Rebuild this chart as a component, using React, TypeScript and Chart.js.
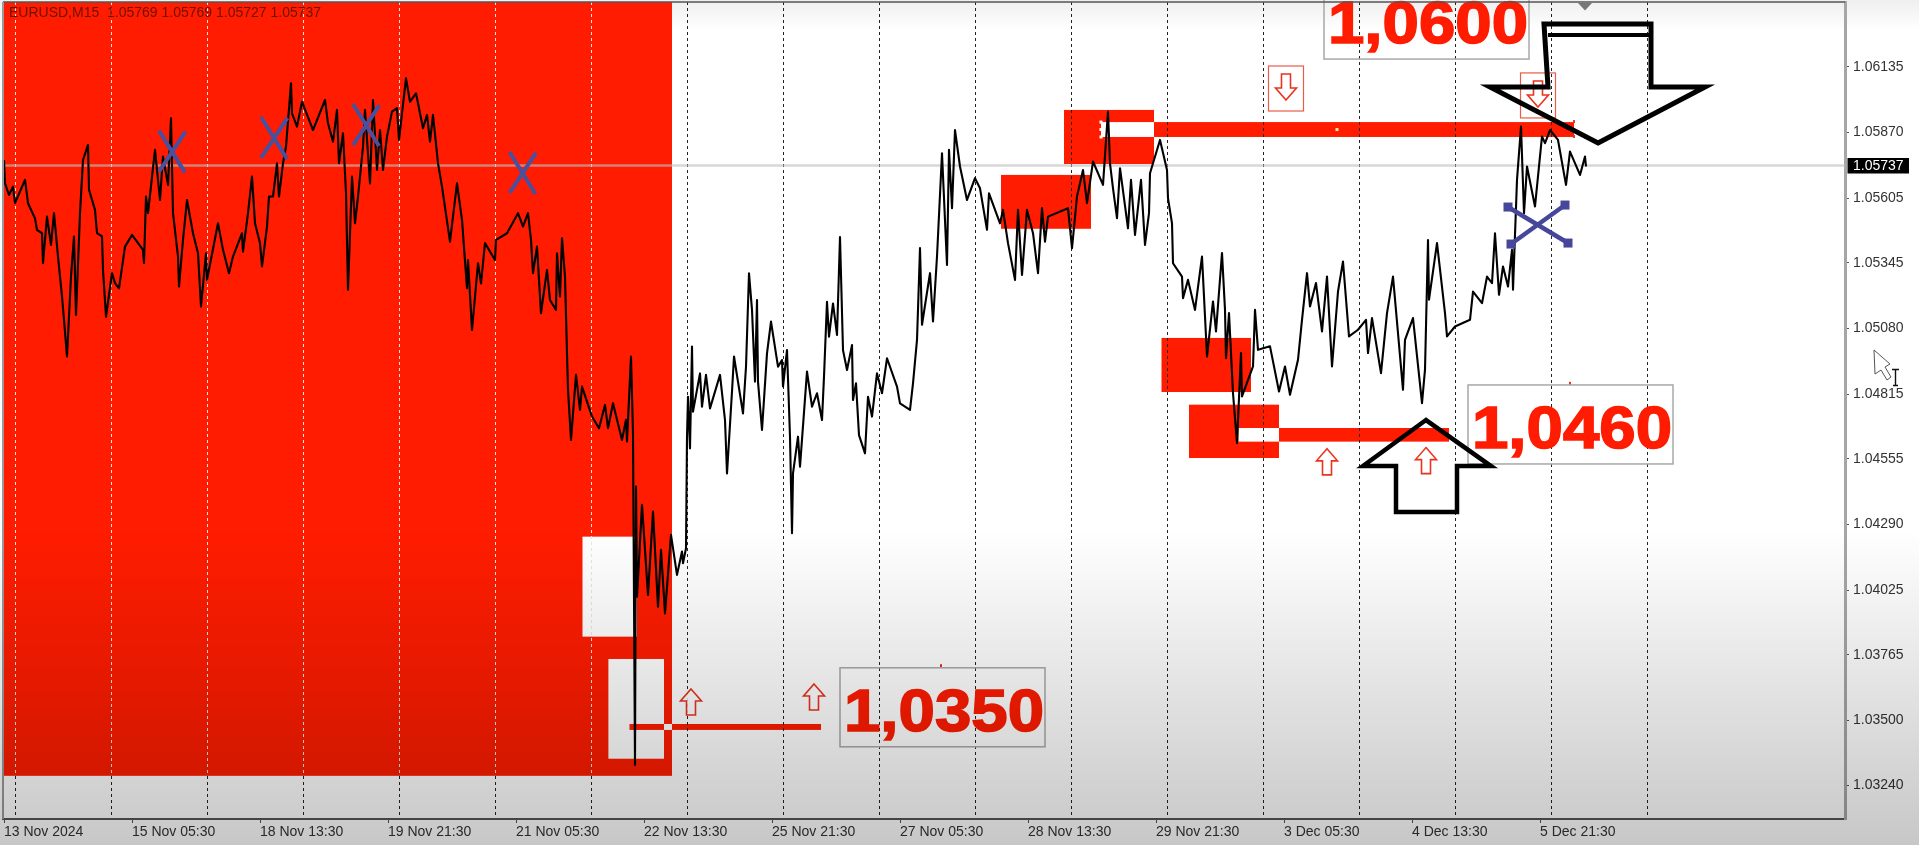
import React, { useEffect, useRef } from "react";
import { Chart, registerables } from "chart.js";

Chart.register(...registerables);

// Horizontal axis unit: one M15 bar. Each pair is [bar, price].
const legNov13to18: [number, number][] = [
  [1,1.05759],[2,1.05665],[6,1.05618],[10,1.05652],[12,1.05585],[22,1.05679],[25,1.05585],[32,1.05524],[34,1.05477],[39,1.05464],
  [40,1.05343],[44,1.05531],[48,1.05417],[51,1.05545],[55,1.0537],[59,1.05209],[61,1.05115],[64,1.04967],[68,1.05289],[71,1.05451],
  [73,1.05135],[77,1.05545],[80,1.05759],[85,1.0582],[86,1.05639],[92,1.05558],[94,1.05464],[99,1.05451],[100,1.05316],[103,1.05128],
  [109,1.05303],[112,1.05263],[116,1.05242],[122,1.0541],[129,1.05457],[140,1.05397],[141,1.05343],[143,1.05612],[145,1.05545],[152,1.058],
  [154,1.05719],[157,1.05598],[160,1.05773],[165,1.05659],[168,1.05927],[170,1.05545],[175,1.0537],[176,1.05249],[180,1.05437],[184,1.05598],
  [190,1.05464],[195,1.05383],[198,1.05169],[203,1.05383],[204,1.05276],[215,1.05504],[220,1.05397],[226,1.05303],[230,1.0537],[239,1.05464],
  [240,1.0539],[245,1.05545],[249,1.05692],[252,1.05504],[257,1.05424],[259,1.0533],[264,1.05491],[266,1.05612],[270,1.05612],[274,1.05746],
  [276,1.05612],[280,1.05746],[283,1.05813],[288,1.06068],[289,1.05947],[294,1.05894],[299,1.05994],[310,1.0588],[322,1.06001],[325,1.05907],[330,1.05833],
];
const legNov18to22: [number, number][] = [
  [334,1.05961],[336,1.05746],[340,1.05867],[343,1.05625],[345,1.05236],[349,1.05692],[352,1.05504],[355,1.05612],[360,1.05813],[362,1.05961],
  [367,1.05665],[370,1.06001],[374,1.05719],[377,1.0588],[380,1.05719],[384,1.05853],[389,1.05954],[394,1.05968],[396,1.0584],[403,1.06088],
  [407,1.05994],[413,1.06028],[420,1.05887],[424,1.05941],[427,1.05833],[430,1.05941],[435,1.05746],[439,1.05652],[447,1.0543],[454,1.05665],
  [459,1.05518],[464,1.05242],[465,1.05356],[469,1.05074],[475,1.05343],[478,1.05262],[482,1.05424],[492,1.05356],[493,1.05437],[504,1.05464],
  [515,1.05545],[520,1.05491],[525,1.05545],[528,1.05437],[530,1.05303],[534,1.0541],[538,1.05142],[544,1.05316],[547,1.05195],[553,1.05155],
  [554,1.05383],[557,1.05209],[559,1.05444],[562,1.05289],[564,1.0498],[565,1.04833],[568,1.04631],[573,1.04893],[577,1.04752],[579,1.04846],
  [589,1.04725],[596,1.04678],[602,1.04772],[605,1.04678],[610,1.04779],[619,1.04631],[623,1.04712],[624,1.04625],[628,1.04967],[630,1.04658],
  [632,1.03321],[633,1.04443],[634,1.03999],[639,1.04369],[645,1.04006],[650,1.04342],[655,1.03959],[658,1.04188],[662,1.03932],[668,1.04248],
  [674,1.04087],[679,1.04181],[680,1.04134],[683,1.04194],
];
const legNov22to28: [number, number][] = [
  [684,1.04644],[685,1.04805],[687,1.04597],[689,1.05007],[690,1.04745],[697,1.04899],[699,1.04765],[703,1.04893],[707,1.04758],[717,1.04893],
  [722,1.04711],[724,1.04496],[729,1.04826],[731,1.04967],[740,1.04738],[743,1.04926],[746,1.05302],[749,1.05155],[752,1.04866],[754,1.05195],
  [755,1.04866],[759,1.04671],[764,1.0498],[768,1.05108],[775,1.04926],[779,1.04953],[780,1.04846],[784,1.04993],[787,1.04644],[789,1.04255],
  [790,1.04496],[795,1.04644],[797,1.04523],[804,1.04906],[809,1.04765],[814,1.04819],[819,1.04711],[821,1.04886],[824,1.05188],[826,1.05047],
  [830,1.05181],[834,1.05054],[837,1.05449],[840,1.04993],[844,1.04913],[849,1.05013],[850,1.04792],[853,1.04859],[856,1.0465],[862,1.04577],
  [865,1.04805],[869,1.04725],[874,1.04899],[879,1.04819],[884,1.0496],[894,1.04846],[897,1.04778],[907,1.04752],[910,1.04859],[914,1.05034],
  [917,1.05404],[919,1.05095],[927,1.05303],[930,1.05108],[934,1.0537],[939,1.05786],[944,1.05336],[946,1.058],[949,1.05565],[952,1.0588],
  [957,1.05733],[964,1.05598],[972,1.05686],[977,1.05645],[984,1.05478],[986,1.05625],[997,1.05504],[1000,1.05558],[1005,1.05424],[1012,1.05276],
  [1015,1.05558],[1019,1.05296],[1024,1.05558],[1030,1.05464],[1035,1.05303],[1039,1.05565],[1042,1.0543],[1045,1.05531],[1065,1.05565],[1069,1.05404],
  [1074,1.05612],[1080,1.05719],[1084,1.05585],[1090,1.05753],[1100,1.05659],[1105,1.05954],[1107,1.05746],[1110,1.05645],[1114,1.05525],[1117,1.05726],
  [1125,1.05484],[1128,1.05679],[1132,1.05457],[1138,1.05679],[1142,1.05417],[1146,1.05545],[1147,1.05706],[1157,1.0584],[1164,1.05719],[1165,1.05605],
];
const legNov29toDec5: [number, number][] = [
  [1169,1.05504],[1170,1.05343],[1179,1.05289],[1180,1.05202],[1185,1.05276],[1192,1.05155],[1199,1.0537],[1204,1.04967],[1210,1.05189],[1213,1.05068],
  [1219,1.05384],[1222,1.05155],[1223,1.0496],[1226,1.05142],[1230,1.04819],[1234,1.04618],[1238,1.04981],[1239,1.04806],[1250,1.04927],[1252,1.05155],
  [1255,1.04994],[1267,1.05008],[1276,1.04826],[1282,1.04927],[1287,1.04813],[1295,1.04954],[1299,1.05115],[1304,1.05303],[1307,1.05169],[1313,1.05263],
  [1319,1.05068],[1324,1.05289],[1329,1.04927],[1335,1.05229],[1340,1.0535],[1346,1.05048],[1355,1.05075],[1363,1.05115],[1365,1.04981],[1369,1.05122],
  [1378,1.049],[1384,1.05142],[1390,1.05289],[1400,1.04833],[1402,1.05034],[1410,1.05122],[1419,1.04779],[1422,1.04914],[1425,1.05437],[1426,1.05196],
  [1434,1.05424],[1442,1.05142],[1444,1.05048],[1452,1.05088],[1467,1.05115],[1470,1.05229],[1479,1.05182],[1484,1.05289],[1489,1.05263],[1492,1.05464],
  [1496,1.05216],[1500,1.0533],[1505,1.05249],[1509,1.05397],[1510,1.05236],[1514,1.05679],[1518,1.05894],[1521,1.05545],[1524,1.05733],[1532,1.05572],
  [1539,1.05854],[1542,1.05827],[1547,1.0588],[1555,1.0584],[1563,1.05659],[1567,1.05793],[1577,1.05699],[1582,1.05773],[1583,1.05733],
];

const barCount = 1842;
const yMin = 1.03103;
const yMax = 1.06396;
const currentPrice = 1.05737;
const yTicks = [1.06135,1.0587,1.05605,1.05345,1.0508,1.04815,1.04555,1.0429,1.04025,1.03765,1.035,1.0324];
const xTickBars = [1,129,257,385,513,641,769,897,1025,1153,1281,1409,1537];
const xTickLabels = ["13 Nov 2024","15 Nov 05:30","18 Nov 13:30","19 Nov 21:30","21 Nov 05:30","22 Nov 13:30","25 Nov 21:30","27 Nov 05:30","28 Nov 13:30","29 Nov 21:30","3 Dec 05:30","4 Dec 13:30","5 Dec 21:30"];
const gridBars = [12,108,204,300,396,492,588,684,780,876,972,1068,1164,1260,1356,1452,1548,1644];

// [bar from, bar to, price high, price low]
const redZones: number[][] = [
  [0,669,yMax,1.03277],
  [998,1088,1.05699,1.05482],
  [1061,1151,1.05961,1.05743],
  [1158.5,1248,1.05042,1.04824],
  [1186,1276,1.04773,1.04558],
  [1151,1571,1.05912,1.05852],
  [1276,1446,1.04679,1.04624],
];
const whiteZones: number[][] = [
  [579.5,634,1.04241,1.03838],
  [605.4,661,1.03748,1.03346],
  [1098,1151,1.05912,1.05852],
  [1235.5,1276,1.04679,1.04624],
];
const supportStrip: number[][] = [[626.5,661,1.03486,1.03462],[669,818,1.03486,1.03462]];
const supportGap: number[][] = [[661,669,1.03486,1.03462]];

const priceLabels = ["1,0350","1,0460","1,0600"];
const labelBars = [837,1465,1321];
const labelBottoms = [1.03394,1.04534,1.06166];
const crossBars = [169,271,363,519.5];
const crossPrices = [1.05793,1.05848,1.059,1.05707];
const bigCrossBar = 1535;
const bigCrossPrice = 1.05497;
const upBars = [688,811,1324,1423];
const upPrices = [1.03627,1.03647,1.04595,1.046];
const downBars = [1283,1535];
const downPrices = [1.06001,1.05973];
const blackUp = [1423,1.04711];
const blackDown = [1595,1.05828];

const FONT = '"Liberation Sans", Arial, sans-serif';

function hollowArrow(ctx: CanvasRenderingContext2D, x: number, y: number, dir: number) {
  const p: number[][] = [[0,0],[10.5,12],[4.5,12],[4.5,26],[-4.5,26],[-4.5,12],[-10.5,12]];
  ctx.beginPath();
  p.forEach(([dx, dy], i) => {
    const py = y + dir * dy;
    if (i === 0) ctx.moveTo(x + dx, py); else ctx.lineTo(x + dx, py);
  });
  ctx.closePath();
  ctx.fillStyle = "rgba(255,255,255,0.85)";
  ctx.fill();
  ctx.strokeStyle = "#e9331f";
  ctx.lineWidth = 1.6;
  ctx.stroke();
}

const overlay = {
  id: "mt4Objects",
  beforeDraw(chart: any) {
    const { ctx, scales } = chart;
    const sx = scales.x, sy = scales.y;
    const rect = (r: number[], color: string) => {
      const x0 = sx.getPixelForValue(r[0]), x1 = sx.getPixelForValue(r[1]);
      const y0 = sy.getPixelForValue(r[2]), y1 = sy.getPixelForValue(r[3]);
      ctx.fillStyle = color;
      ctx.fillRect(x0, y0, x1 - x0, y1 - y0);
    };
    ctx.save();
    const bg = ctx.createLinearGradient(0, 0, 0, 30);
    bg.addColorStop(0, "#efefef");
    bg.addColorStop(1, "#ffffff");
    ctx.fillStyle = bg;
    ctx.fillRect(0, 0, chart.width, chart.height);
    redZones.forEach((r) => rect(r, "#ff1c00"));
    whiteZones.forEach((r) => rect(r, "#ffffff"));
    supportStrip.forEach((r) => rect(r, "#ff1c00"));
    supportGap.forEach((r) => rect(r, "#ffffff"));
    ctx.restore();
  },
  afterDatasetsDraw(chart: any) {
    const { ctx, scales } = chart;
    const sx = scales.x, sy = scales.y;
    const X = (b: number) => sx.getPixelForValue(b);
    const Y = (p: number) => sy.getPixelForValue(p);
    ctx.save();

    ctx.fillStyle = "#ffffff";
    [[1098,1.05912],[1098,1.05882],[1098,1.05852]].forEach(([b,p]) => ctx.fillRect(X(b)-1.5, Y(p)-1.5, 3, 3));
    ctx.fillStyle = "#ffe9a0";
    ctx.fillRect(X(1334)-1.5, Y(1.05882)-1.5, 3, 3);
    ctx.fillStyle = "#e9331f";
    [[1571,1.05912],[1571,1.05852],[1567,1.04857],[938,1.03719]].forEach(([b,p]) => ctx.fillRect(X(b)-1, Y(p)-2, 2, 3));

    upBars.forEach((b, i) => hollowArrow(ctx, X(b), Y(upPrices[i]), 1));
    downBars.forEach((b, i) => {
      const x = X(b), y = Y(downPrices[i]);
      ctx.strokeStyle = "#ec5a48";
      ctx.lineWidth = 1.2;
      ctx.strokeRect(x - 17.5, y - 34, 35, 45);
      hollowArrow(ctx, x, y, -1);
    });

    ctx.strokeStyle = "#4a4f9e";
    ctx.lineCap = "butt";
    ctx.lineWidth = 4;
    crossBars.forEach((b, i) => {
      const x = X(b), y = Y(crossPrices[i]);
      ctx.beginPath();
      ctx.moveTo(x - 13, y - 21); ctx.lineTo(x + 13, y + 21);
      ctx.moveTo(x + 13.5, y - 20); ctx.lineTo(x - 13, y + 20);
      ctx.stroke();
    });
    const bx = X(bigCrossBar), by = Y(bigCrossPrice);
    ctx.strokeStyle = "#46479a";
    ctx.lineWidth = 4.5;
    ctx.beginPath();
    ctx.moveTo(bx - 30, by - 18); ctx.lineTo(bx + 30, by + 18);
    ctx.moveTo(bx + 27, by - 20); ctx.lineTo(bx - 27, by + 19);
    ctx.stroke();
    ctx.fillStyle = "#46479a";
    [[-30,-18],[30,18],[27,-20],[-27,19]].forEach(([dx,dy]) => ctx.fillRect(bx+dx-4.5, by+dy-4.5, 9, 9));

    priceLabels.forEach((t, i) => {
      const left = X(labelBars[i]), bottom = Y(labelBottoms[i]);
      ctx.strokeStyle = "#a8a8a8";
      ctx.lineWidth = 1.5;
      ctx.strokeRect(left, bottom - 79, 205, 79);
      ctx.save();
      ctx.translate(left + 4, bottom - 16);
      ctx.scale(1.09, 1);
      ctx.font = `bold 60px ${FONT}`;
      ctx.textAlign = "left";
      ctx.textBaseline = "alphabetic";
      ctx.fillStyle = "#ff1c00";
      ctx.strokeStyle = "#ff1c00";
      ctx.lineWidth = 1.6;
      ctx.fillText(t, 0, 0);
      ctx.strokeText(t, 0, 0);
      ctx.restore();
    });

    ctx.strokeStyle = "#000";
    ctx.lineJoin = "miter";
    ctx.lineWidth = 4.5;
    const ux = X(blackUp[0]), uy = Y(blackUp[1]);
    ctx.beginPath();
    [[0,0],[-63,46],[-30,46],[-30,92],[31,92],[31,46],[65,46]].forEach(([dx,dy], i) =>
      i ? ctx.lineTo(ux+dx, uy+dy) : ctx.moveTo(ux+dx, uy+dy));
    ctx.closePath();
    ctx.stroke();
    const dxx = X(blackDown[0]), dyy = Y(blackDown[1]);
    ctx.lineWidth = 5;
    ctx.beginPath();
    [[0,0],[107,-56],[53,-56],[53,-119],[-54,-119],[-50,-56],[-108,-56]].forEach(([dx,dy], i) =>
      i ? ctx.lineTo(dxx+dx, dyy+dy) : ctx.moveTo(dxx+dx, dyy+dy));
    ctx.closePath();
    ctx.stroke();
    ctx.lineWidth = 4;
    ctx.beginPath();
    ctx.moveTo(dxx - 50, dyy - 108); ctx.lineTo(dxx + 53, dyy - 108);
    ctx.stroke();
    ctx.restore();
  },
  afterDraw(chart: any) {
    const { ctx, scales, chartArea: a } = chart;
    const sy = scales.y;
    ctx.save();

    ctx.strokeStyle = "#555";
    ctx.lineWidth = 1.5;
    ctx.beginPath();
    ctx.moveTo(a.left, a.top); ctx.lineTo(a.right, a.top);
    ctx.stroke();
    ctx.strokeStyle = "#9a9a9a";
    ctx.lineWidth = 2;
    ctx.beginPath();
    ctx.moveTo(a.left, a.top); ctx.lineTo(a.left, a.bottom);
    ctx.stroke();

    ctx.font = `14px ${FONT}`;
    ctx.textAlign = "left";
    ctx.textBaseline = "middle";
    ctx.fillStyle = "#6e1200";
    ctx.fillText("EURUSD,M15  1.05769 1.05769 1.05727 1.05737", 9, 13);

    const cy = sy.getPixelForValue(currentPrice);
    ctx.fillStyle = "#000";
    ctx.fillRect(a.right + 2.5, cy - 7.5, 61.5, 15.5);
    ctx.fillStyle = "#fff";
    ctx.fillText(currentPrice.toFixed(5), a.right + 8, cy + 0.5);

    ctx.fillStyle = "#777";
    ctx.beginPath();
    ctx.moveTo(1578, 3); ctx.lineTo(1592, 3); ctx.lineTo(1585, 10.5);
    ctx.closePath();
    ctx.fill();

    ctx.strokeStyle = "#555";
    ctx.fillStyle = "#fff";
    ctx.lineWidth = 1;
    ctx.beginPath();
    ctx.moveTo(1874, 350); ctx.lineTo(1875, 374); ctx.lineTo(1881, 370);
    ctx.lineTo(1887, 380); ctx.lineTo(1891, 377); ctx.lineTo(1885, 367);
    ctx.lineTo(1890, 364); ctx.closePath();
    ctx.fill(); ctx.stroke();
    ctx.strokeStyle = "#111";
    ctx.lineWidth = 1.4;
    ctx.beginPath();
    ctx.moveTo(1895.5, 369); ctx.lineTo(1895.5, 386);
    ctx.moveTo(1892, 369.5); ctx.lineTo(1899, 369.5);
    ctx.moveTo(1893, 385.5); ctx.lineTo(1898, 385.5);
    ctx.stroke();

    const shade = ctx.createLinearGradient(0, 530, 0, 845);
    shade.addColorStop(0, "rgba(0,0,0,0)");
    shade.addColorStop(1, "rgba(0,0,0,0.22)");
    ctx.fillStyle = shade;
    ctx.fillRect(0, 530, chart.width, 315);
    ctx.restore();
  },
};

export default function App() {
  const ref = useRef<HTMLCanvasElement | null>(null);
  useEffect(() => {
    document.body.style.margin = "0";
    document.body.style.background = "#fff";
    const canvas = ref.current!;
    const trace = [...legNov13to18, ...legNov18to22, ...legNov22to28, ...legNov29toDec5];
    const noPad = (s: any) => { s.paddingTop = 0; s.paddingBottom = 0; s.paddingLeft = 0; s.paddingRight = 0; };
    const chart = new Chart(canvas, {
      type: "line",
      data: {
        datasets: [
          {
            label: "EURUSD",
            data: trace.map(([x, y]) => ({ x, y })),
            borderColor: "#000",
            borderWidth: 2.1,
            borderJoinStyle: "round",
            pointRadius: 0,
            tension: 0,
            order: 1,
            xAxisID: "x",
            yAxisID: "y",
          },
          {
            label: "Bid",
            data: [{ x: 0, y: currentPrice }, { x: barCount, y: currentPrice }],
            borderColor: "rgba(190,190,190,0.62)",
            borderWidth: 2.5,
            pointRadius: 0,
            order: 2,
            xAxisID: "x",
            yAxisID: "y",
          },
        ],
      },
      options: {
        responsive: false,
        animation: false,
        parsing: false,
        normalized: true,
        events: [],
        layout: { padding: { left: 3, top: 2, right: 0, bottom: 0 } },
        plugins: { legend: { display: false }, tooltip: { enabled: false } },
        scales: {
          x: {
            type: "linear",
            position: "bottom",
            min: 0,
            max: barCount,
            afterBuildTicks: (s: any) => { s.ticks = xTickBars.map((value) => ({ value })); },
            afterFit: (s: any) => { s.height = 26; noPad(s); },
            grid: { drawOnChartArea: false, drawTicks: true, tickLength: 4, tickColor: "#555" },
            border: { display: true, color: "#555", width: 2 },
            ticks: {
              autoSkip: false,
              maxRotation: 0,
              minRotation: 0,
              align: "start",
              padding: 1,
              color: "#333",
              font: { family: FONT, size: 14 },
              callback: (v: any) => xTickLabels[xTickBars.indexOf(Number(v))] ?? "",
            },
          },
          x2: {
            type: "linear",
            position: "top",
            min: 0,
            max: barCount,
            afterBuildTicks: (s: any) => { s.ticks = gridBars.map((value) => ({ value })); },
            afterFit: (s: any) => { s.height = 0; noPad(s); },
            ticks: { display: false },
            border: { display: false, dash: [3, 3] },
            grid: {
              drawTicks: false,
              lineWidth: 1,
              color: (c: any) => {
                if (c.tick && c.tick.value > redZones[0][1]) return "#222";
                const sy = c.chart.scales.y;
                const y0 = sy.getPixelForValue(yMax);
                const y1 = sy.getPixelForValue(yMin);
                const g = c.chart.ctx.createLinearGradient(0, y0, 0, y1);
                const stop = (sy.getPixelForValue(redZones[0][3]) - y0) / (y1 - y0);
                g.addColorStop(0, "#e6e6e6");
                g.addColorStop(stop, "#e6e6e6");
                g.addColorStop(stop, "#222");
                g.addColorStop(1, "#222");
                return g;
              },
            },
          },
          y: {
            type: "linear",
            position: "right",
            min: yMin,
            max: yMax,
            afterBuildTicks: (s: any) => { s.ticks = yTicks.map((value) => ({ value })); },
            afterFit: (s: any) => { s.width = 74; noPad(s); },
            grid: { drawOnChartArea: false, drawTicks: true, tickLength: 4, tickColor: "#555" },
            border: { display: true, color: "#a6a6a6", width: 3 },
            ticks: {
              autoSkip: false,
              padding: 4,
              color: "#333",
              font: { family: FONT, size: 14 },
              callback: (v: any) => Number(v).toFixed(5),
            },
          },
        },
      },
      plugins: [overlay],
    } as any);
    return () => chart.destroy();
  }, []);
  return <canvas ref={ref} width={1919} height={845} style={{ display: "block", width: 1919, height: 845 }} />;
}
